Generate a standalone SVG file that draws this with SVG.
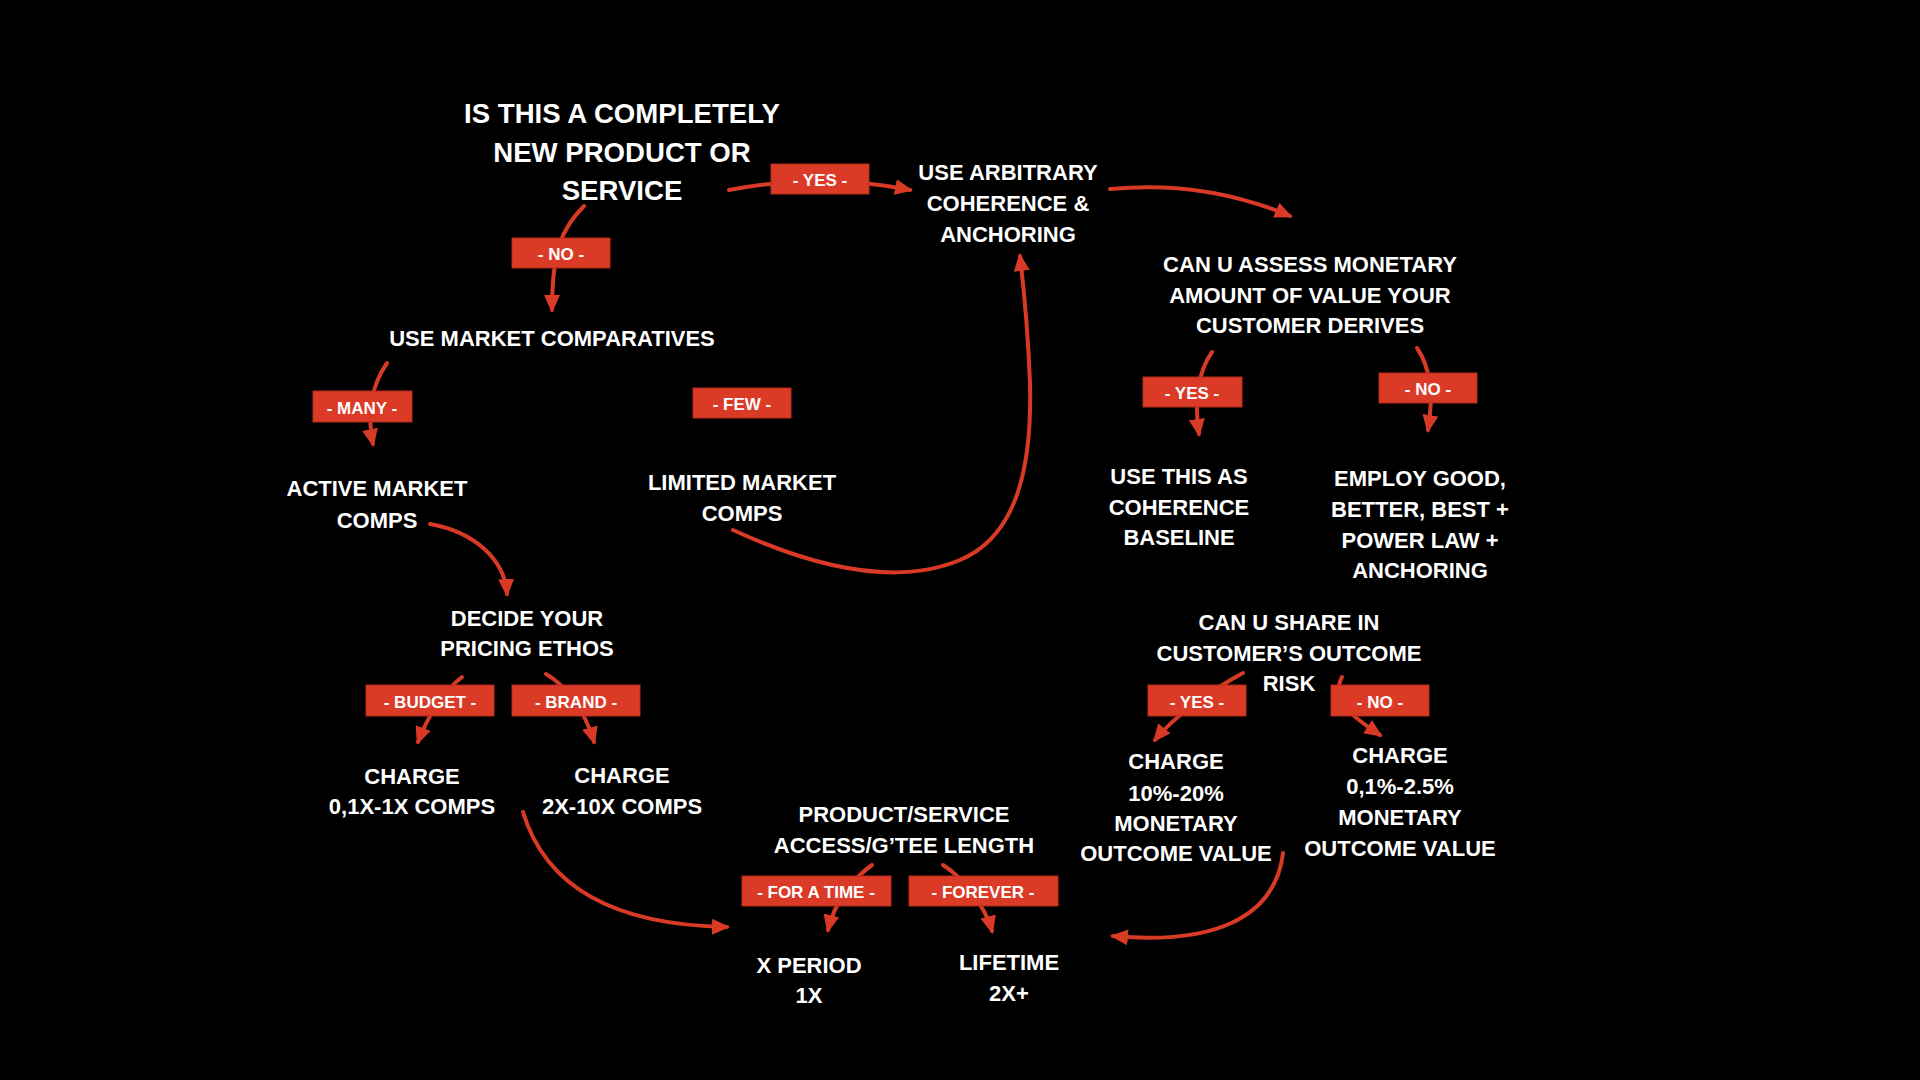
<svg xmlns="http://www.w3.org/2000/svg" width="1920" height="1080" viewBox="0 0 1920 1080">
  <style>
    .t { font-family: "Liberation Sans", Arial, sans-serif; font-weight: bold; fill: #ffffff; text-anchor: middle; font-size: 22px; }
    .title { font-size: 27.6px; }
    .lbl { font-family: "Liberation Sans", Arial, sans-serif; font-weight: bold; fill: #ffffff; text-anchor: middle; font-size: 17px; }
    .box { fill: #db3a27; stroke: #b52c1c; stroke-width: 1; }
    .edge { fill: none; stroke: #d93a26; stroke-width: 4; stroke-linecap: round; marker-end: url(#arrow); }
  </style>
  <defs>
    <marker id="arrow" markerUnits="userSpaceOnUse" viewBox="0 0 18 16" markerWidth="18" markerHeight="16" refX="15" refY="8" orient="auto">
      <path d="M0,0 L18,8 L0,16 z" fill="#d93a26"/>
    </marker>
  </defs>
  <rect width="1920" height="1080" fill="#000000"/>

  <g id="connectors">
    <path class="edge" d="M729,190 Q820,172 910,190"/>
    <path class="edge" d="M1110,189 Q1205,180 1290,216"/>
    <path class="edge" d="M584,206 C562,228 552,250 552,310"/>
    <path class="edge" d="M387,363 C372,385 366,410 373,444"/>
    <path class="edge" d="M430,524 C475,532 505,560 507,594"/>
    <path class="edge" d="M733,530 C820,570 900,585 960,560 C1020,535 1032,460 1030,383 C1028,330 1024,290 1020,256"/>
    <path class="edge" d="M462,677 C445,690 428,715 418,742"/>
    <path class="edge" d="M546,674 C565,685 585,710 594,742"/>
    <path class="edge" d="M523,812 C545,885 610,925 727,927"/>
    <path class="edge" d="M872,865 C855,877 835,900 828,930"/>
    <path class="edge" d="M943,865 C962,877 985,905 992,931"/>
    <path class="edge" d="M1212,352 C1198,372 1194,400 1199,434"/>
    <path class="edge" d="M1417,348 C1432,370 1433,400 1428,430"/>
    <path class="edge" d="M1243,673 C1215,688 1175,715 1155,740"/>
    <path class="edge" d="M1342,677 C1330,700 1350,715 1380,735"/>
    <path class="edge" d="M1283,853 C1275,920 1210,945 1113,936"/>
  </g>

  <g id="edge-labels">
    <g id="lbl-yes-1"><rect class="box" x="771" y="164" width="98" height="30"/><text class="lbl" x="820" y="186">- YES -</text></g>
    <g id="lbl-no-1"><rect class="box" x="512" y="238" width="98" height="30"/><text class="lbl" x="561" y="260">- NO -</text></g>
    <g id="lbl-many"><rect class="box" x="313" y="391" width="99" height="31"/><text class="lbl" x="362" y="414">- MANY -</text></g>
    <g id="lbl-few"><rect class="box" x="693" y="388" width="98" height="30"/><text class="lbl" x="742" y="410">- FEW -</text></g>
    <g id="lbl-yes-2"><rect class="box" x="1143" y="377" width="99" height="30"/><text class="lbl" x="1192" y="399">- YES -</text></g>
    <g id="lbl-no-2"><rect class="box" x="1379" y="373" width="98" height="30"/><text class="lbl" x="1428" y="395">- NO -</text></g>
    <g id="lbl-budget"><rect class="box" x="366" y="685" width="128" height="31"/><text class="lbl" x="430" y="708">- BUDGET -</text></g>
    <g id="lbl-brand"><rect class="box" x="512" y="685" width="128" height="31"/><text class="lbl" x="576" y="708">- BRAND -</text></g>
    <g id="lbl-yes-3"><rect class="box" x="1148" y="685" width="98" height="31"/><text class="lbl" x="1197" y="708">- YES -</text></g>
    <g id="lbl-no-3"><rect class="box" x="1331" y="685" width="98" height="31"/><text class="lbl" x="1380" y="708">- NO -</text></g>
    <g id="lbl-for-a-time"><rect class="box" x="742" y="876" width="149" height="30"/><text class="lbl" x="816" y="898">- FOR A TIME -</text></g>
    <g id="lbl-forever"><rect class="box" x="909" y="876" width="149" height="30"/><text class="lbl" x="983" y="898">- FOREVER -</text></g>
  </g>

  <g id="node-new-product">
    <text class="t title" x="622" y="123">IS THIS A COMPLETELY</text>
    <text class="t title" x="622" y="162">NEW PRODUCT OR</text>
    <text class="t title" x="622" y="200">SERVICE</text>
  </g>
  <g id="node-arbitrary">
    <text class="t" x="1008" y="180">USE ARBITRARY</text>
    <text class="t" x="1008" y="211">COHERENCE &amp;</text>
    <text class="t" x="1008" y="242">ANCHORING</text>
  </g>
  <g id="node-assess">
    <text class="t" x="1310" y="272">CAN U ASSESS MONETARY</text>
    <text class="t" x="1310" y="303">AMOUNT OF VALUE YOUR</text>
    <text class="t" x="1310" y="333">CUSTOMER DERIVES</text>
  </g>
  <g id="node-market-comparatives">
    <text class="t" x="552" y="346">USE MARKET COMPARATIVES</text>
  </g>
  <g id="node-active">
    <text class="t" x="377" y="496">ACTIVE MARKET</text>
    <text class="t" x="377" y="528">COMPS</text>
  </g>
  <g id="node-limited">
    <text class="t" x="742" y="490">LIMITED MARKET</text>
    <text class="t" x="742" y="521">COMPS</text>
  </g>
  <g id="node-baseline">
    <text class="t" x="1179" y="484">USE THIS AS</text>
    <text class="t" x="1179" y="515">COHERENCE</text>
    <text class="t" x="1179" y="545">BASELINE</text>
  </g>
  <g id="node-employ">
    <text class="t" x="1420" y="486">EMPLOY GOOD,</text>
    <text class="t" x="1420" y="517">BETTER, BEST +</text>
    <text class="t" x="1420" y="548">POWER LAW +</text>
    <text class="t" x="1420" y="578">ANCHORING</text>
  </g>
  <g id="node-ethos">
    <text class="t" x="527" y="626">DECIDE YOUR</text>
    <text class="t" x="527" y="656">PRICING ETHOS</text>
  </g>
  <g id="node-budget-charge">
    <text class="t" x="412" y="784">CHARGE</text>
    <text class="t" x="412" y="814">0,1X-1X COMPS</text>
  </g>
  <g id="node-brand-charge">
    <text class="t" x="622" y="783">CHARGE</text>
    <text class="t" x="622" y="814">2X-10X COMPS</text>
  </g>
  <g id="node-length">
    <text class="t" x="904" y="822">PRODUCT/SERVICE</text>
    <text class="t" x="904" y="853">ACCESS/G’TEE LENGTH</text>
  </g>
  <g id="node-period">
    <text class="t" x="809" y="973">X PERIOD</text>
    <text class="t" x="809" y="1003">1X</text>
  </g>
  <g id="node-lifetime">
    <text class="t" x="1009" y="970">LIFETIME</text>
    <text class="t" x="1009" y="1001">2X+</text>
  </g>
  <g id="node-share-risk">
    <text class="t" x="1289" y="630">CAN U SHARE IN</text>
    <text class="t" x="1289" y="661">CUSTOMER’S OUTCOME</text>
    <text class="t" x="1289" y="691">RISK</text>
  </g>
  <g id="node-charge-high">
    <text class="t" x="1176" y="769">CHARGE</text>
    <text class="t" x="1176" y="801">10%-20%</text>
    <text class="t" x="1176" y="831">MONETARY</text>
    <text class="t" x="1176" y="861">OUTCOME VALUE</text>
  </g>
  <g id="node-charge-low">
    <text class="t" x="1400" y="763">CHARGE</text>
    <text class="t" x="1400" y="794">0,1%-2.5%</text>
    <text class="t" x="1400" y="825">MONETARY</text>
    <text class="t" x="1400" y="856">OUTCOME VALUE</text>
  </g>
</svg>
